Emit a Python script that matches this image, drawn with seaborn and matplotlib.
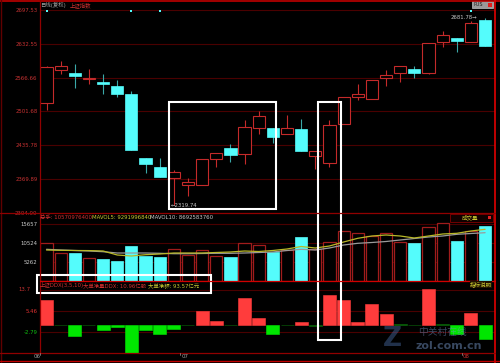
import numpy as np
import pandas as pd
import matplotlib
matplotlib.use("Agg")
import matplotlib.pyplot as plt
import seaborn as sns
from matplotlib.patches import Rectangle
from matplotlib.lines import Line2D

# ---------------- data ----------------
opens  = [2518.6, 2581.2, 2576.8, 2564.4, 2558.0, 2551.6, 2535.3, 2410.6, 2394.5, 2372.4,
          2359.6, 2359.6, 2408.7, 2430.6, 2418.4, 2470.1, 2469.4, 2457.1, 2466.8, 2415.9,
          2400.9, 2477.9, 2529.5, 2526.4, 2567.1, 2576.8, 2583.2, 2576.0, 2635.5, 2643.8,
          2636.1, 2679.0]
highs  = [2589.0, 2598.7, 2594.2, 2583.2, 2573.5, 2561.8, 2541.1, 2412.0, 2411.2, 2387.0,
          2373.2, 2410.0, 2421.7, 2437.8, 2485.6, 2501.7, 2469.4, 2495.3, 2487.6, 2425.6,
          2484.3, 2529.5, 2554.1, 2563.2, 2581.2, 2589.6, 2589.6, 2634.9, 2656.8, 2643.8,
          2677.0, 2681.78]
lows   = [2505.0, 2574.8, 2547.7, 2555.4, 2534.7, 2529.5, 2427.5, 2382.9, 2374.4, 2319.74,
          2337.0, 2359.6, 2393.8, 2403.5, 2400.3, 2457.1, 2440.3, 2457.1, 2425.6, 2390.7,
          2393.8, 2477.9, 2523.1, 2525.0, 2550.2, 2558.5, 2566.3, 2574.8, 2625.8, 2616.7,
          2636.1, 2627.7]
closes = [2587.6, 2590.3, 2571.0, 2567.1, 2554.1, 2536.0, 2427.5, 2399.6, 2374.4, 2384.1,
          2365.5, 2410.0, 2421.7, 2416.4, 2471.3, 2492.0, 2451.3, 2470.1, 2425.6, 2425.6,
          2476.1, 2529.5, 2536.1, 2563.2, 2572.9, 2589.6, 2576.8, 2634.9, 2649.7, 2638.0,
          2672.6, 2627.7]
volumes = [10443, 7673, 7700, 6288, 6230, 5620, 9778, 7008, 6565, 8864,
           7202, 8587, 7008, 6565, 10443, 9870, 8116, 8587, 12271, 8781,
           10886, 13850, 13213, 12465, 13213, 10886, 10443, 15041, 16149, 11163,
           13850, 15235]
mavol5  = [8587, 8504, 8449, 8421, 8310, 7202, 6925, 7285, 7479, 7756,
           7756, 7756, 7895, 8033, 8310, 8172, 8449, 8864, 9557, 9141,
           9695, 10803, 11828, 12465, 12742, 12465, 11911, 12465, 13019, 13213,
           13850, 14321]
mavol10 = [8781, 8587, 8449, 8310, 8116, 7756, 7756, 7756, 7673, 7562,
           7562, 7618, 7673, 7673, 7756, 7895, 8033, 8449, 8781, 8587,
           9141, 9972, 10443, 10665, 10942, 11357, 11773, 12188, 12465, 12936,
           13158, 13379]
ddx = [9.7, -0.3, -4.5, -0.3, -2.3, -0.8, -11.2, -2.0, -3.7, -1.6,
       -0.3, 5.4, 1.6, -0.3, 10.8, 2.8, -3.6, -0.2, 1.0, -0.5,
       11.7, 9.7, 1.0, 8.4, 4.4, 0.2, -0.3, 14.3, 0.2, -3.6,
       4.8, -5.6]
price_ticks = [2697.53, 2632.55, 2566.66, 2501.68, 2435.78, 2369.89, 2304.00]
vol_ticks = [15657, 10524, 5262]
ddx_ticks = [13.7, 5.46, -2.79]
signal_dots = [0, 6, 8, 30]
low_mark = (9, 2319.74)
high_mark = (31, 2681.78)
month_labels = ["06", "07", "08"]

# ---------------- style ----------------
sns.set_style("dark", {"axes.facecolor": "black", "figure.facecolor": "black"})
plt.rcParams["font.family"] = ["DejaVu Sans", "Noto Sans CJK SC"]
FAM = ["DejaVu Sans", "Noto Sans CJK SC"]

RED = "#c42a2a"
DRED = "#a01c1c"
CYAN = "#54fcfc"
CWICK = "#3aa8a8"
GRID = "#4a0000"
LBL_RED = "#c83232"

W, H = 500, 363
fig = plt.figure(figsize=(5, 3.63), dpi=100, facecolor="black")


def add_ax(x0, y0, x1, y1):
    return fig.add_axes([x0 / W, 1 - y1 / H, (x1 - x0) / W, (y1 - y0) / H])


def ftext(x, y, s, **kw):
    kw.setdefault("fontsize", 3.9)
    kw.setdefault("va", "center")
    kw.setdefault("family", FAM)
    fig.text(x / W, 1 - y / H, s, **kw)


n = len(opens)
idx = np.arange(n)
up = [c >= o for o, c in zip(opens, closes)]
XL = (-0.495, 31.70)

# ---------------- price panel ----------------
axp = add_ax(39.5, 1, 495, 213.3)
axp.set_facecolor("black")
for t in price_ticks:
    axp.axhline(t, color=GRID, lw=0.8, zorder=0)
for i in range(n):
    o, h, l, c = opens[i], highs[i], lows[i], closes[i]
    if up[i]:
        axp.vlines(i, c, h, color=RED, lw=0.8, zorder=2)
        axp.vlines(i, l, o, color=RED, lw=0.8, zorder=2)
        axp.bar(i, max(c - o, 0.6), bottom=o, width=0.86, facecolor="black",
                edgecolor=RED, lw=0.8, zorder=3)
    else:
        axp.vlines(i, l, h, color=CWICK, lw=0.8, zorder=2)
        axp.bar(i, max(o - c, 0.6), bottom=c, width=0.86, facecolor=CYAN,
                edgecolor=CYAN, lw=0.5, zorder=3)
axp.scatter(signal_dots, [2697.0] * len(signal_dots), marker="s", s=2.5,
            color=CYAN, lw=0, zorder=4)
axp.set_xlim(*XL)
axp.set_ylim(2304.0, 2715.6)
axp.set_yticks(price_ticks)
axp.set_yticklabels([f"{t:.2f}" for t in price_ticks])
axp.tick_params(axis="y", length=0, pad=1.5, labelsize=3.9, labelcolor=LBL_RED)
axp.set_xticks([])
for s in axp.spines.values():
    s.set_visible(False)
axp.text(low_mark[0] - 0.25, low_mark[1], "\u2190" + f"{low_mark[1]:.2f}", fontsize=3.9,
         color="#c8c8c8", va="center", ha="left")
axp.text(high_mark[0] - 0.55, high_mark[1] + 2, f"{high_mark[1]:.2f}\u2192", fontsize=3.9,
         color="#c8c8c8", va="center", ha="right")

# ---------------- volume panel ----------------
axv = add_ax(39.5, 213.3, 495, 281)
axv.set_facecolor("black")
for t in vol_ticks:
    axv.axhline(t, color=GRID, lw=0.8, zorder=0)
sns.barplot(x=idx, y=volumes, native_scale=True, width=0.86, errorbar=None,
            ax=axv, zorder=2)
for p, u in zip(axv.patches, up):
    if u:
        p.set_facecolor("black")
        p.set_edgecolor(DRED)
        p.set_linewidth(0.9)
    else:
        p.set_facecolor(CYAN)
        p.set_edgecolor(CYAN)
        p.set_linewidth(0.5)
ma_df = pd.DataFrame({"i": idx, "m5": mavol5, "m10": mavol10})
sns.lineplot(data=ma_df, x="i", y="m10", color="#9a9a9a", lw=0.9, ax=axv, zorder=3)
sns.lineplot(data=ma_df, x="i", y="m5", color="#b8b828", lw=0.9, ax=axv, zorder=4)
axv.set_xlim(*XL)
axv.set_ylim(0, 18753)
axv.set_yticks(vol_ticks)
axv.set_yticklabels([str(t) for t in vol_ticks])
axv.tick_params(axis="y", length=0, pad=1.5, labelsize=3.9, labelcolor="#c8c8c8")
axv.set_xticks([])
axv.set_xlabel("")
axv.set_ylabel("")
for s in axv.spines.values():
    s.set_visible(False)

# ---------------- DDX panel ----------------
axd = add_ax(39.5, 281, 495, 352.5)
axd.set_facecolor("black")
for t in ddx_ticks:
    axd.axhline(t, color=GRID, lw=0.8, zorder=0)
sns.barplot(x=idx, y=ddx, native_scale=True, width=0.92, errorbar=None, ax=axd, zorder=2)
for p, v in zip(axd.patches, ddx):
    if v >= 0:
        col = "#ff3c3c" if v > 0.5 else "#0a6a0a"
    else:
        col = "#00e600" if v < -0.5 else "#0a6a0a"
    p.set_facecolor(col)
    p.set_edgecolor(col)
    p.set_linewidth(0.4)
axd.set_xlim(*XL)
axd.set_ylim(-11.08, 17.42)
axd.set_yticks(ddx_ticks[1:])
axd.set_yticklabels(["5.46", "-2.79"])
axd.tick_params(axis="y", length=0, pad=1.5, labelsize=3.9)
for lab, col in zip(axd.get_yticklabels(), ["#e03030", "#10c010"]):
    lab.set_color(col)
axd.set_xticks([])
axd.set_xlabel("")
axd.set_ylabel("")
for s in axd.spines.values():
    s.set_visible(False)
# top DDX tick label sits left of the white box
ftext(30, 289.5, f"{ddx_ticks[0]}", color=LBL_RED, ha="right")

# ---------------- frame lines ----------------
def fline(x0, y0, x1, y1, color, lw):
    fig.add_artist(Line2D([x0 / W, x1 / W], [1 - y0 / H, 1 - y1 / H],
                          color=color, lw=lw))

fline(0, 0.5, 500, 0.5, "#c00000", 1.2)
fline(495, 0, 495, 363, "#e00000", 1.2)
fline(0.5, 0, 0.5, 363, "#600000", 1.0)
fline(0, 361, 500, 361, "#c00000", 1.0)
fline(39.5, 0, 39.5, 352.5, "#900000", 0.9)
fline(0, 213.3, 495, 213.3, "#900000", 0.9)
fline(39.5, 281, 495, 281, "#d00000", 0.9)
fline(0, 352.5, 495, 352.5, "#900000", 0.9)

# ---------------- header texts ----------------
ftext(40, 5, "日线(复权)", color="#a0a0a0")
ftext(70, 5, "上证指数", color="#d03030")
ftext(40, 217.5, "总手: 10570976400", color="#d03030")
ftext(92, 217.5, "MAVOL5: 9291996840", color="#c8c832")
ftext(150, 217.5, "MAVOL10: 8692583760", color="#c8c8c8")
ftext(40, 285, "上证DDX(3,5,10)", color="#d03030")
ftext(83, 285, "大单净量DDX: 10.96亿股", color="#d03030")
ftext(148, 285, "大单净额: 93.57亿元", color="#c8c832")

# top-right small button
fig.add_artist(Rectangle((472 / W, 1 - 8 / H), 21 / W, 7 / H, facecolor="#9a9a9a",
                         edgecolor="#c0c0c0", lw=0.5))
ftext(474, 4.5, "PUS", color="#202020", fontsize=3.5)
fig.add_artist(Rectangle((488 / W, 1 - 6.5 / H), 3.5 / W, 3.5 / H, facecolor="#e02020", lw=0))

# 成交量 box
fig.add_artist(Rectangle((450 / W, 1 - 222 / H), 43 / W, 8.5 / H, facecolor="#100000",
                         edgecolor="#700000", lw=0.7))
ftext(462, 217.8, "成交量", color="#c8c832", fontsize=4.0)
fig.add_artist(Rectangle((487.5 / W, 1 - 219.5 / H), 3 / W, 3 / H, facecolor="#e02020", lw=0))
ftext(470, 284.5, "指标说明", color="#c8c832", fontsize=4.0,
      bbox=dict(facecolor="#201000", edgecolor="none", pad=0.3))

# month labels
ftext(34, 357, month_labels[0], color="#a0a0a0")
ftext(182, 357, month_labels[1], color="#a0a0a0")
ftext(463, 357, month_labels[2], color="#d03030")
for xx in (40, 180, 462):
    fline(xx, 352.5, xx, 355, "#a0a0a0", 0.5)

# watermark
ftext(383, 339, "Z", color="#4a6fa8", fontsize=19, alpha=0.45, weight="bold")
ftext(418, 332, "中关村在线", color="#7090c0", fontsize=7, alpha=0.5)
ftext(416, 346, "zol.com.cn", color="#7090c0", fontsize=8, alpha=0.5, weight="bold")

# annotation rectangles (white)
def frect(x0, y0, x1, y1):
    fig.add_artist(Rectangle((x0 / W, 1 - y1 / H), (x1 - x0) / W, (y1 - y0) / H,
                             facecolor="none", edgecolor="white", lw=1.5))

frect(168.5, 102, 275.5, 209)
frect(317.5, 102, 341, 340)
frect(37, 275, 211, 292.5)

fig.savefig("out.png", dpi=100, facecolor="black")
